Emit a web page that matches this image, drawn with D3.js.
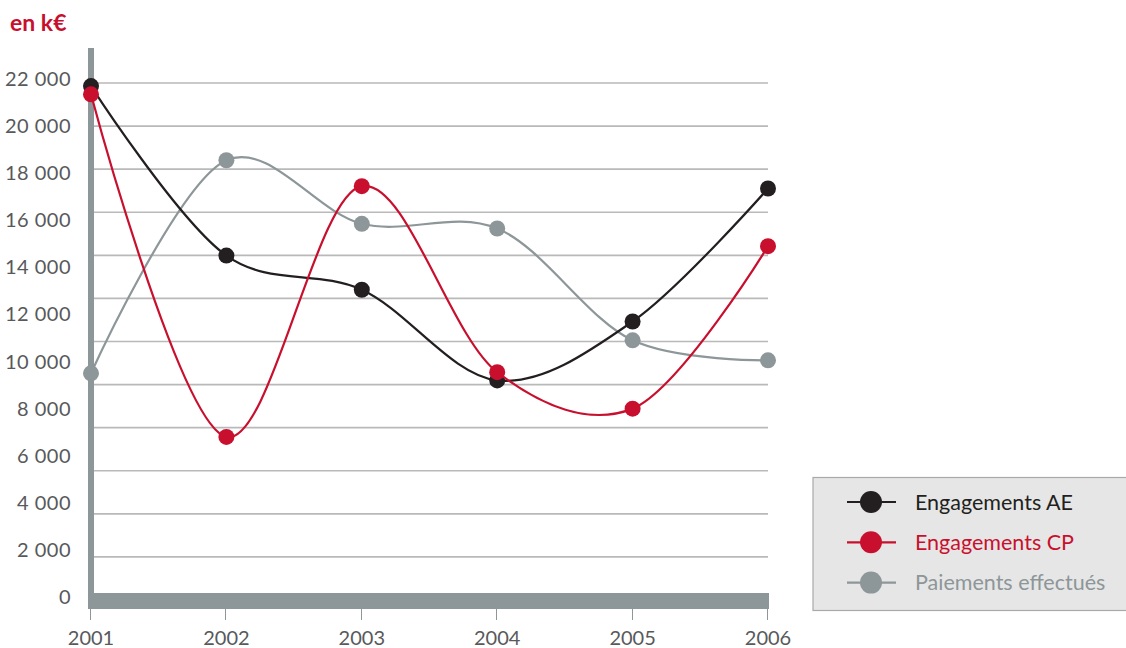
<!DOCTYPE html>
<html>
<head>
<meta charset="utf-8">
<script src="https://cdn.jsdelivr.net/npm/d3@7"></script>
<style>
    body { margin: 0; background: #fff; }
    text { font-family: Lato, "Open Sans", sans-serif; }
</style>
</head>
<body>
<div id="chart"></div>
<script>
// values (k€)
const years = [2001, 2002, 2003, 2004, 2005, 2006];
const engagementsAE = [21700, 14500, 13050, 9200, 11700, 17350];
const engagementsCP = [21350, 6800, 17450, 9550, 8000, 14900];
const paiements = [9500, 18550, 15850, 15650, 10900, 10050];
const yTicks = [0, 2000, 4000, 6000, 8000, 10000, 12000, 14000, 16000, 18000, 20000, 22000];
const gridSteps = d3.range(13);

const seriesNames = ["Engagements AE", "Engagements CP", "Paiements effectués"];
const seriesColors = ["#231f20", "#c8102e", "#8d9698"];

const W = 1126, H = 648;

let svg = d3.select("#chart")
    .append("svg")
    .attr("width", W)
    .attr("height", H);

let x = d3.scaleLinear()
    .domain([2001, 2006])
    .range([91, 768]);

let y = d3.scaleLinear()
    .domain([0, 22000])
    .range([597, 79]);

// background rules are spaced on their own (12 bands)
let gy = d3.scaleLinear()
    .domain([0, 12])
    .range([600, 83]);

// unit
svg.append("text")
    .attr("x", 10)
    .attr("y", 31)
    .attr("fill", "#c8102e")
    .attr("font-weight", "bold")
    .attr("font-size", 23)
    .text("en k€");

// grid
svg.append("g")
    .selectAll("line")
    .data(gridSteps)
    .enter()
    .append("line")
    .attr("x1", 94)
    .attr("x2", 768)
    .attr("y1", d => gy(d))
    .attr("y2", d => gy(d))
    .attr("stroke", "#b9b9b9")
    .attr("stroke-width", 1.6);

// y labels
svg.append("g")
    .selectAll("text")
    .data(yTicks)
    .enter()
    .append("text")
    .attr("x", 71)
    .attr("y", d => y(d))
    .attr("dy", "0.35em")
    .attr("text-anchor", "end")
    .attr("font-size", 20)
    .attr("letter-spacing", 0.5)
    .attr("fill", "#58595b")
    .text(d => d3.format(",")(d).replace(",", " "));

// axis bars
svg.append("rect")
    .attr("x", 88)
    .attr("y", 48)
    .attr("width", 6)
    .attr("height", 561)
    .attr("fill", "#8d9698");

svg.append("rect")
    .attr("x", 88)
    .attr("y", 593)
    .attr("width", x(2006) + 1 - 88)
    .attr("height", 16)
    .attr("fill", "#8d9698");

// x ticks + labels
let xg = svg.append("g");
xg.selectAll("line")
    .data(years)
    .enter()
    .append("line")
    .attr("x1", d => Math.round(x(d)) - 0.5)
    .attr("x2", d => Math.round(x(d)) - 0.5)
    .attr("y1", 609)
    .attr("y2", 620)
    .attr("stroke", "#8d9698")
    .attr("stroke-width", 1);

xg.selectAll("text")
    .data(years)
    .enter()
    .append("text")
    .attr("x", d => x(d))
    .attr("y", 645)
    .attr("text-anchor", "middle")
    .attr("font-size", 20)
    .attr("fill", "#58595b")
    .text(d => d);

// lines
let allSeries = [engagementsAE, engagementsCP, paiements];
let line = d3.line()
    .x((d, i) => x(years[i]))
    .y(d => y(d))
    .curve(d3.curveCatmullRom.alpha(0.2));

// draw gray first so black and red sit on top
let order = [2, 0, 1];
order.forEach(function (s) {
    let g = svg.append("g");
    g.append("path")
        .datum(allSeries[s])
        .attr("d", line)
        .attr("fill", "none")
        .attr("stroke", seriesColors[s])
        .attr("stroke-width", 2.2);
    g.selectAll("circle")
        .data(allSeries[s])
        .enter()
        .append("circle")
        .attr("cx", (d, i) => x(years[i]))
        .attr("cy", d => y(d))
        .attr("r", 8)
        .attr("fill", seriesColors[s]);
});

// legend
let lg = svg.append("g");
lg.append("rect")
    .attr("x", 813)
    .attr("y", 477.5)
    .attr("width", 330)
    .attr("height", 133)
    .attr("fill", "#e6e6e6")
    .attr("stroke", "#a9a9a9")
    .attr("stroke-width", 1.2);

let items = lg.selectAll("g.item")
    .data(seriesNames)
    .enter()
    .append("g")
    .attr("class", "item")
    .attr("transform", (d, i) => "translate(0," + (502 + i * 40.3) + ")");

items.append("line")
    .attr("x1", 847)
    .attr("x2", 896)
    .attr("stroke", (d, i) => seriesColors[i])
    .attr("stroke-width", 2.2);

items.append("circle")
    .attr("cx", 871)
    .attr("r", 11)
    .attr("fill", (d, i) => seriesColors[i]);

items.append("text")
    .attr("x", 915)
    .attr("dy", "0.35em")
    .attr("font-size", 21.5)
    .attr("fill", (d, i) => seriesColors[i])
    .text(d => d);
</script>
</body>
</html>
